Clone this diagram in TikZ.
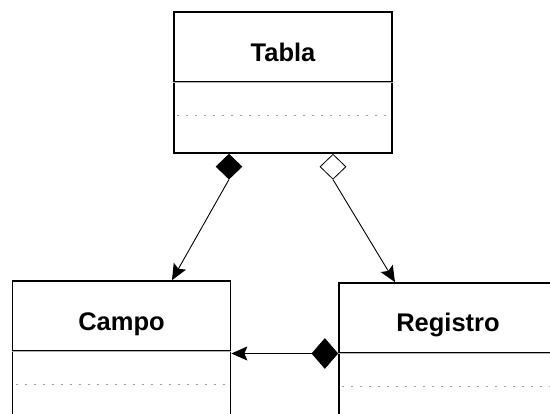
\documentclass[tikz,border=0pt]{standalone}
\usepackage{fontspec}
\setmainfont{Liberation Sans}
\usetikzlibrary{shapes.geometric,arrows.meta}

\tikzset{
  classbox/.style={draw, line width=1.7pt, minimum width=218pt, minimum height=141pt, inner sep=0pt},
  classname/.style={font=\bfseries\fontsize{25.5}{30}\selectfont, text height=18pt, text depth=0pt, inner sep=0pt},
  divider/.style={line width=0.8pt, double=gray!60, double distance=0.9pt},
  opsline/.style={gray!75, line width=0.7pt, dash pattern=on 2pt off 7pt},
  compose/.style={shape=diamond, draw, fill=black, line width=0.6pt, inner sep=0pt},
  aggregate/.style={shape=diamond, draw, fill=white, line width=0.8pt, inner sep=0pt},
  assoc/.style={line width=0.9pt, -{Stealth[length=16pt, width=14pt, inset=3pt]}}
}

\begin{document}
\begin{tikzpicture}[x=1pt,y=1pt]
  \useasboundingbox (0,0) rectangle (550,414);
  \clip (0,0) rectangle (550,414);

  % classes
  \node[classbox] (tabla) at (283,331.5) {};
  \node[classbox] (campo) at (121.5,62.5) {};
  \node[classbox] (registro) at (448,60.5) {};

  \node[classname] (tablaname) at ([yshift=-41pt]tabla.north) {Tabla};
  \node[classname] (camponame) at ([yshift=-41pt]campo.north) {Campo};
  \node[classname] (registroname) at ([yshift=-40pt]registro.north) {Registro};

  \foreach \cls in {tabla,campo,registro} {
    \draw[divider] ([yshift=-71pt]\cls.north west) -- ([yshift=-71pt]\cls.north east);
    \draw[opsline] ([xshift=4pt,yshift=-104pt]\cls.north west) -- ([xshift=-4pt,yshift=-104pt]\cls.north east);
  }

  % relations
  \node[compose, minimum width=26pt, minimum height=25pt, anchor=north] (tablacampo) at ([xshift=-54pt]tabla.south) {};
  \node[aggregate, minimum width=26pt, minimum height=25pt, anchor=north] (tablaregistro) at ([xshift=50pt]tabla.south) {};
  \node[compose, minimum width=26pt, minimum height=30pt, anchor=east] (registrocampo) at (registro.west) {};

  \draw[assoc] (tablacampo.south) -- ([xshift=50.5pt]campo.north);
  \draw[assoc] (tablaregistro.south) -- ([xshift=-53pt]registro.north);
  \draw[assoc] (registrocampo.west) -- (registrocampo.west -| campo.east);
\end{tikzpicture}
\end{document}
